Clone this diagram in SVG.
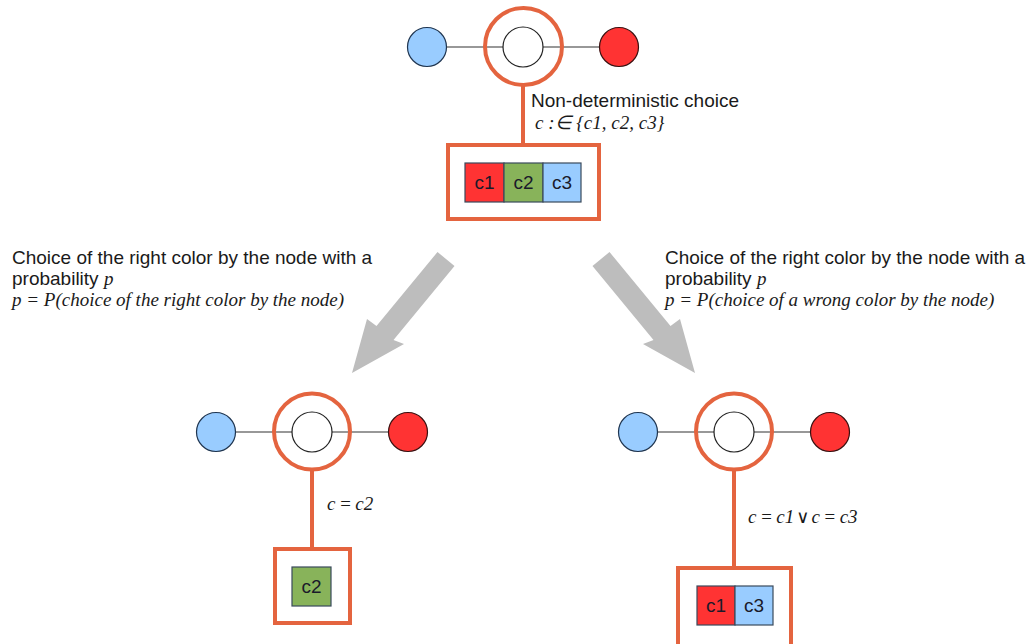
<svg xmlns="http://www.w3.org/2000/svg" width="1034" height="644" viewBox="0 0 1034 644">
<style>
.bg{fill:#ffffff}
.link{stroke:#333333;stroke-width:1.2;fill:none}
.olink{stroke:#e4643f;stroke-width:4;fill:none}
.ring{stroke:#e4643f;stroke-width:4;fill:none}
.obox{stroke:#e4643f;stroke-width:4;fill:#ffffff}
.blue{fill:#99ccff;stroke:#1f3550;stroke-width:1.2}
.red{fill:#ff3333;stroke:#3a1010;stroke-width:1.2}
.white{fill:#ffffff;stroke:#222222;stroke-width:1.2}
.cell{stroke:#3a4a5c;stroke-width:1.2}
.cr{fill:#ff3333}
.cg{fill:#88b35a}
.cb{fill:#99ccff}
.ct{font-family:"Liberation Sans",Arial,sans-serif;font-size:19px;fill:#1a1a2a;text-anchor:middle}
.t{font-family:"Liberation Sans",Arial,sans-serif;font-size:19px;fill:#1a1a1a}
.m{font-family:"Liberation Serif","Times New Roman",serif;font-style:italic;font-size:19px;fill:#1a1a1a}
.or{font-family:"DejaVu Sans",sans-serif;font-style:normal;font-weight:normal;font-size:18px}
.arrow{fill:#bdbdbd}
</style>
<rect class="bg" x="0" y="0" width="1034" height="644"/>

<g id="connectors">
  <line class="link" x1="427" y1="47" x2="619" y2="47"/>
  <line class="link" x1="216" y1="432" x2="408" y2="432"/>
  <line class="link" x1="638" y1="432" x2="830" y2="432"/>
  <line class="olink" x1="523" y1="85" x2="523" y2="145"/>
  <line class="olink" x1="312" y1="470" x2="312" y2="549"/>
  <line class="olink" x1="734" y1="470" x2="734" y2="568"/>
  <polygon id="arrow-left" class="arrow" points="437.5,252 454.5,266 393.5,340 404,344 352,373 367,319 376.5,326"/>
  <polygon id="arrow-right" class="arrow" points="609.5,252 592.5,266 653.5,340 643,344 695,373 680,319 670.5,326"/>
</g>

<g id="top-blue"><circle class="blue" cx="427" cy="47" r="19.5"/></g>
<g id="top-red"><circle class="red" cx="619" cy="47" r="19.5"/></g>
<g id="top-node">
  <circle class="white" cx="523" cy="47" r="20"/>
  <circle class="ring" cx="523.5" cy="46.5" r="38.5"/>
</g>
<g id="top-label">
  <text class="t" x="531" y="107">Non-deterministic choice</text>
  <text class="m" x="535" y="129">c :∈ {c1, c2, c3}</text>
</g>
<g id="top-box">
  <rect class="obox" x="448" y="145" width="151" height="74"/>
  <rect class="cell cr" x="465" y="163" width="39" height="39"/>
  <rect class="cell cg" x="504" y="163" width="39" height="39"/>
  <rect class="cell cb" x="543" y="163" width="38" height="39"/>
  <text class="ct" x="484.5" y="189">c1</text>
  <text class="ct" x="523.5" y="189">c2</text>
  <text class="ct" x="562" y="189">c3</text>
</g>

<g id="left-label">
  <text class="t" x="12" y="264">Choice of the right color by the node with a</text>
  <text class="t" x="12" y="285">probability <tspan class="m">p</tspan></text>
  <text class="m" x="12" y="306">p = P(choice of the right color by the node)</text>
</g>
<g id="right-label">
  <text class="t" x="665" y="264">Choice of the right color by the node with a</text>
  <text class="t" x="665" y="285">probability <tspan class="m">p</tspan></text>
  <text class="m" x="665" y="306">p = P(choice of a wrong color by the node)</text>
</g>

<g id="left-blue"><circle class="blue" cx="216" cy="432" r="19.5"/></g>
<g id="left-red"><circle class="red" cx="408" cy="432" r="19.5"/></g>
<g id="left-node">
  <circle class="white" cx="312" cy="432" r="20"/>
  <circle class="ring" cx="312" cy="431.5" r="38"/>
</g>
<g id="left-cond">
  <text class="m" x="327" y="510">c<tspan dx="3.5">=</tspan><tspan dx="3.5">c2</tspan></text>
</g>
<g id="left-box">
  <rect class="obox" x="275" y="549" width="75" height="74"/>
  <rect class="cell cg" x="292" y="567" width="39" height="39"/>
  <text class="ct" x="311.5" y="593">c2</text>
</g>

<g id="right-blue"><circle class="blue" cx="638" cy="432" r="19.5"/></g>
<g id="right-red"><circle class="red" cx="830" cy="432" r="19.5"/></g>
<g id="right-node">
  <circle class="white" cx="734" cy="432" r="20"/>
  <circle class="ring" cx="734" cy="431.5" r="38"/>
</g>
<g id="right-cond">
  <text class="m" x="748" y="523">c<tspan dx="3.5">=</tspan><tspan dx="3.5">c1</tspan><tspan dx="2" class="or">∨</tspan><tspan dx="2">c</tspan><tspan dx="3.5">=</tspan><tspan dx="3.5">c3</tspan></text>
</g>
<g id="right-box">
  <rect class="obox" x="678" y="568" width="113" height="90"/>
  <rect class="cell cr" x="697" y="586" width="38" height="39"/>
  <rect class="cell cb" x="735" y="586" width="38" height="39"/>
  <text class="ct" x="716" y="612">c1</text>
  <text class="ct" x="754" y="612">c3</text>
</g>
</svg>
